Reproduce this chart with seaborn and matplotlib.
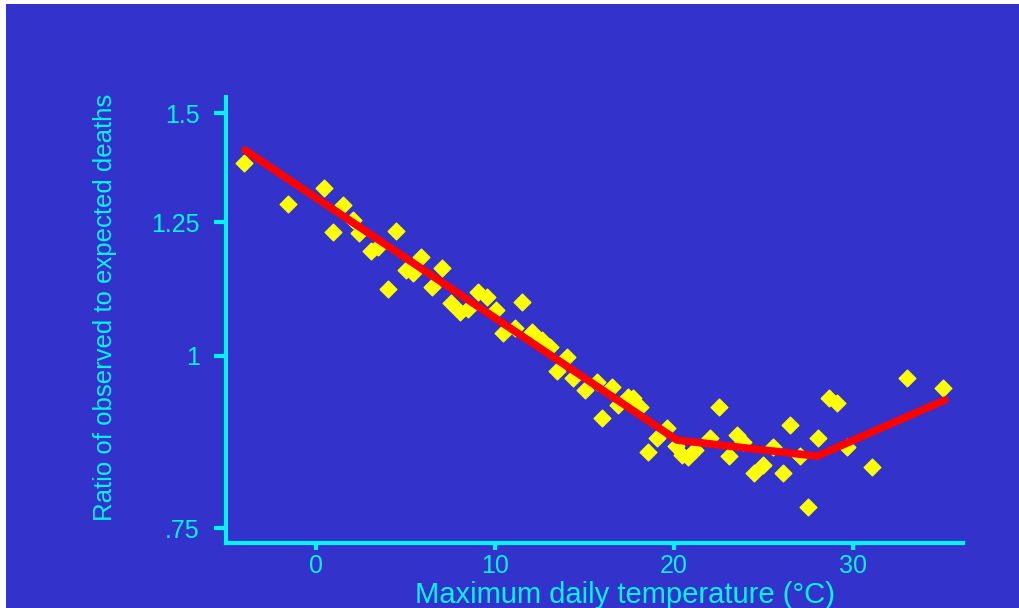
# mortality ratio vs max daily temperature
import numpy as np
import pandas as pd
import matplotlib.pyplot as plt
import seaborn as sns
from matplotlib.patches import Rectangle
from matplotlib.ticker import FixedLocator, FixedFormatter, NullLocator

# observed points
temp = [-4.02, -1.56, 0.45, 1.51, 2.07, 2.40, 0.95, 4.47, 3.07, 3.46,
        5.87, 5.03, 5.42, 4.02, 7.04, 6.48, 7.54, 8.04, 8.49, 9.05,
        9.55, 10.06, 11.51, 10.45, 11.12, 12.07, 12.63, 13.07, 14.02, 13.46,
        14.36, 15.03, 15.70, 16.54, 15.98, 17.43, 17.71, 18.10, 16.87, 19.05,
        19.61, 18.55, 20.11, 20.45, 20.78, 21.17, 22.01, 22.51, 23.07, 23.52,
        23.85, 24.47, 24.97, 25.53, 26.09, 26.48, 27.04, 27.49, 28.04, 28.66,
        29.11, 29.66, 31.06, 33.02, 35.03]
ratio = [1.380, 1.289, 1.324, 1.287, 1.255, 1.228, 1.230, 1.232, 1.192, 1.200,
         1.180, 1.154, 1.149, 1.118, 1.158, 1.122, 1.093, 1.076, 1.082, 1.113,
         1.103, 1.080, 1.094, 1.039, 1.048, 1.041, 1.027, 1.015, 0.998, 0.975,
         0.964, 0.945, 0.958, 0.950, 0.902, 0.934, 0.932, 0.918, 0.921, 0.872,
         0.887, 0.852, 0.860, 0.848, 0.845, 0.855, 0.872, 0.918, 0.846, 0.876,
         0.866, 0.823, 0.834, 0.859, 0.823, 0.891, 0.846, 0.777, 0.872, 0.932,
         0.925, 0.859, 0.831, 0.964, 0.948]

# fitted piecewise line
fit_temp = [-3.97, 20.17, 27.99, 35.14]
fit_ratio = [1.410, 0.869, 0.846, 0.929]

y_ticks = [0.75, 1.0, 1.25, 1.5]
y_labels = ['.75', '1', '1.25', '1.5']
x_ticks = [0, 10, 20, 30]

blue = '#3333cc'
cyan = '#00f4f4'

sns.set_theme(style='ticks')
plt.rcParams['font.family'] = ['Liberation Sans', 'DejaVu Sans']

df = pd.DataFrame({'temp': temp, 'ratio': ratio})
fit = pd.DataFrame({'temp': fit_temp, 'ratio': fit_ratio})

fig = plt.figure(figsize=(10.2, 6.08), dpi=100, facecolor='white')
fig.patches.append(Rectangle((6 / 1020, 0), 1, 1 - 4 / 608, transform=fig.transFigure,
                             facecolor=blue, edgecolor='none', zorder=-10))
ax = fig.add_axes([0.2216, 0.1069, 0.9441 - 0.2216, 0.8405 - 0.1069])
ax.set_facecolor(blue)

sns.scatterplot(data=df, x='temp', y='ratio', marker='D', s=72, color='#ffff00',
                edgecolor='#ffff00', linewidth=1, ax=ax, zorder=3)
sns.lineplot(data=fit, x='temp', y='ratio', color='#ff0000', lw=5.5, ax=ax, zorder=4)

ax.set_yscale('log')
ax.set_xlim(-5.03, 36.15)
ax.set_ylim(0.7318, 1.541)
ax.yaxis.set_major_locator(FixedLocator(y_ticks))
ax.yaxis.set_major_formatter(FixedFormatter(y_labels))
ax.yaxis.set_minor_locator(NullLocator())
ax.set_xticks(x_ticks)

for side in ['top', 'right']:
    ax.spines[side].set_visible(False)
for side in ['left', 'bottom']:
    ax.spines[side].set_color(cyan)
    ax.spines[side].set_linewidth(3)

ax.tick_params(axis='y', colors=cyan, labelsize=18, length=9, width=3, pad=10)
ax.tick_params(axis='x', colors=cyan, labelsize=18, length=5, width=3, pad=3)

ax.set_xlabel('Maximum daily temperature (°C)', color=cyan, fontsize=21)
ax.set_ylabel('Ratio of observed to expected deaths', color=cyan, fontsize=18.5)
ax.xaxis.set_label_coords(0.541, -0.085)
ax.yaxis.set_label_coords(-0.148, 0.529)
ax.grid(False)

plt.savefig('out.png', dpi=100, facecolor=fig.get_facecolor())
